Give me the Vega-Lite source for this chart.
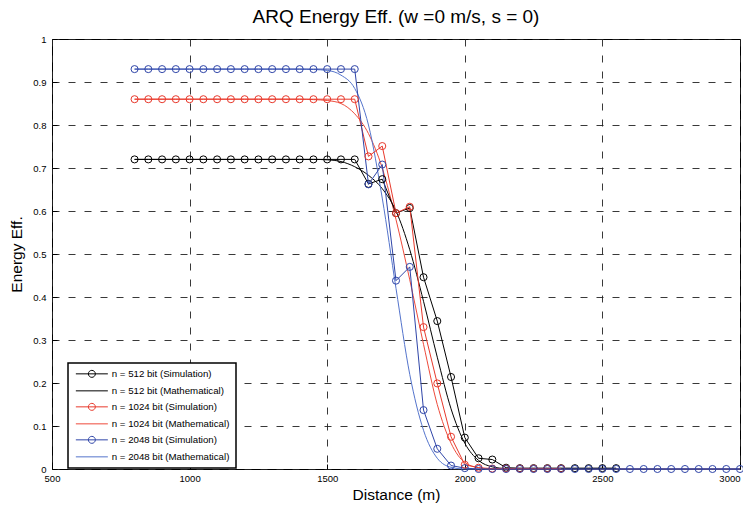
{
  "$schema": "https://vega.github.io/schema/vega-lite/v6.json",
  "width": 688,
  "height": 430,
  "autosize": {"type": "none"},
  "padding": {"left": 52, "top": 39, "right": 3, "bottom": 38},
  "background": "white",
  "title": {"text": "ARQ Energy Eff. (w =0 m/s, s = 0)", "fontSize": 19, "fontWeight": "normal", "font": "Liberation Sans", "color": "black", "offset": 7},
  "config": {
    "view": {"stroke": "black", "strokeWidth": 1},
    "axis": {"labelFont": "Liberation Sans", "labelFontSize": 9.5, "labelColor": "black", "titleFont": "Liberation Sans", "titleFontSize": 15.5, "titleFontWeight": "normal", "titleColor": "black", "gridColor": "#222", "gridDash": [7, 9], "gridWidth": 0.9, "gridOpacity": 1, "domain": false, "ticks": true, "tickSize": -5, "tickColor": "black", "tickWidth": 1}
  },
  "data": {"values": [
    {"s":"n = 512 bit (Simulation)","d":800,"e":0.72},{"s":"n = 512 bit (Simulation)","d":850,"e":0.72},{"s":"n = 512 bit (Simulation)","d":900,"e":0.72},{"s":"n = 512 bit (Simulation)","d":950,"e":0.72},{"s":"n = 512 bit (Simulation)","d":1000,"e":0.72},{"s":"n = 512 bit (Simulation)","d":1050,"e":0.72},{"s":"n = 512 bit (Simulation)","d":1100,"e":0.72},{"s":"n = 512 bit (Simulation)","d":1150,"e":0.72},{"s":"n = 512 bit (Simulation)","d":1200,"e":0.72},{"s":"n = 512 bit (Simulation)","d":1250,"e":0.72},{"s":"n = 512 bit (Simulation)","d":1300,"e":0.72},{"s":"n = 512 bit (Simulation)","d":1350,"e":0.72},{"s":"n = 512 bit (Simulation)","d":1400,"e":0.72},{"s":"n = 512 bit (Simulation)","d":1450,"e":0.72},{"s":"n = 512 bit (Simulation)","d":1500,"e":0.72},{"s":"n = 512 bit (Simulation)","d":1550,"e":0.72},{"s":"n = 512 bit (Simulation)","d":1600,"e":0.72},{"s":"n = 512 bit (Simulation)","d":1650,"e":0.663},{"s":"n = 512 bit (Simulation)","d":1700,"e":0.674},{"s":"n = 512 bit (Simulation)","d":1750,"e":0.595},{"s":"n = 512 bit (Simulation)","d":1800,"e":0.607},{"s":"n = 512 bit (Simulation)","d":1850,"e":0.446},{"s":"n = 512 bit (Simulation)","d":1900,"e":0.344},{"s":"n = 512 bit (Simulation)","d":1950,"e":0.214},{"s":"n = 512 bit (Simulation)","d":2000,"e":0.073},{"s":"n = 512 bit (Simulation)","d":2050,"e":0.025},{"s":"n = 512 bit (Simulation)","d":2100,"e":0.022},{"s":"n = 512 bit (Simulation)","d":2150,"e":0.003},{"s":"n = 512 bit (Simulation)","d":2200,"e":0.002},{"s":"n = 512 bit (Simulation)","d":2250,"e":0.002},{"s":"n = 512 bit (Simulation)","d":2300,"e":0.002},{"s":"n = 512 bit (Simulation)","d":2350,"e":0.002},{"s":"n = 512 bit (Simulation)","d":2400,"e":0.002},{"s":"n = 512 bit (Simulation)","d":2450,"e":0.002},{"s":"n = 512 bit (Simulation)","d":2500,"e":0.002},{"s":"n = 512 bit (Simulation)","d":2550,"e":0.002},
    {"s":"n = 512 bit (Mathematical)","d":800,"e":0.72},{"s":"n = 512 bit (Mathematical)","d":850,"e":0.72},{"s":"n = 512 bit (Mathematical)","d":900,"e":0.72},{"s":"n = 512 bit (Mathematical)","d":950,"e":0.72},{"s":"n = 512 bit (Mathematical)","d":1000,"e":0.72},{"s":"n = 512 bit (Mathematical)","d":1050,"e":0.72},{"s":"n = 512 bit (Mathematical)","d":1100,"e":0.72},{"s":"n = 512 bit (Mathematical)","d":1150,"e":0.72},{"s":"n = 512 bit (Mathematical)","d":1200,"e":0.72},{"s":"n = 512 bit (Mathematical)","d":1250,"e":0.72},{"s":"n = 512 bit (Mathematical)","d":1300,"e":0.72},{"s":"n = 512 bit (Mathematical)","d":1350,"e":0.72},{"s":"n = 512 bit (Mathematical)","d":1400,"e":0.72},{"s":"n = 512 bit (Mathematical)","d":1450,"e":0.72},{"s":"n = 512 bit (Mathematical)","d":1500,"e":0.719},{"s":"n = 512 bit (Mathematical)","d":1550,"e":0.715},{"s":"n = 512 bit (Mathematical)","d":1600,"e":0.703},{"s":"n = 512 bit (Mathematical)","d":1650,"e":0.683},{"s":"n = 512 bit (Mathematical)","d":1700,"e":0.652},{"s":"n = 512 bit (Mathematical)","d":1750,"e":0.6},{"s":"n = 512 bit (Mathematical)","d":1800,"e":0.51},{"s":"n = 512 bit (Mathematical)","d":1850,"e":0.39},{"s":"n = 512 bit (Mathematical)","d":1900,"e":0.26},{"s":"n = 512 bit (Mathematical)","d":1950,"e":0.14},{"s":"n = 512 bit (Mathematical)","d":2000,"e":0.06},{"s":"n = 512 bit (Mathematical)","d":2050,"e":0.02},{"s":"n = 512 bit (Mathematical)","d":2100,"e":0.005},{"s":"n = 512 bit (Mathematical)","d":2150,"e":0.001},{"s":"n = 512 bit (Mathematical)","d":2200,"e":0},{"s":"n = 512 bit (Mathematical)","d":2250,"e":0},{"s":"n = 512 bit (Mathematical)","d":2300,"e":0},{"s":"n = 512 bit (Mathematical)","d":2350,"e":0},{"s":"n = 512 bit (Mathematical)","d":2400,"e":0},{"s":"n = 512 bit (Mathematical)","d":2450,"e":0},{"s":"n = 512 bit (Mathematical)","d":2500,"e":0},{"s":"n = 512 bit (Mathematical)","d":2550,"e":0},{"s":"n = 512 bit (Mathematical)","d":2600,"e":0},{"s":"n = 512 bit (Mathematical)","d":2650,"e":0},{"s":"n = 512 bit (Mathematical)","d":2700,"e":0},{"s":"n = 512 bit (Mathematical)","d":2750,"e":0},{"s":"n = 512 bit (Mathematical)","d":2800,"e":0},{"s":"n = 512 bit (Mathematical)","d":2850,"e":0},{"s":"n = 512 bit (Mathematical)","d":2900,"e":0},{"s":"n = 512 bit (Mathematical)","d":2950,"e":0},{"s":"n = 512 bit (Mathematical)","d":3000,"e":0},
    {"s":"n = 1024 bit (Simulation)","d":800,"e":0.86},{"s":"n = 1024 bit (Simulation)","d":850,"e":0.86},{"s":"n = 1024 bit (Simulation)","d":900,"e":0.86},{"s":"n = 1024 bit (Simulation)","d":950,"e":0.86},{"s":"n = 1024 bit (Simulation)","d":1000,"e":0.86},{"s":"n = 1024 bit (Simulation)","d":1050,"e":0.86},{"s":"n = 1024 bit (Simulation)","d":1100,"e":0.86},{"s":"n = 1024 bit (Simulation)","d":1150,"e":0.86},{"s":"n = 1024 bit (Simulation)","d":1200,"e":0.86},{"s":"n = 1024 bit (Simulation)","d":1250,"e":0.86},{"s":"n = 1024 bit (Simulation)","d":1300,"e":0.86},{"s":"n = 1024 bit (Simulation)","d":1350,"e":0.86},{"s":"n = 1024 bit (Simulation)","d":1400,"e":0.86},{"s":"n = 1024 bit (Simulation)","d":1450,"e":0.86},{"s":"n = 1024 bit (Simulation)","d":1500,"e":0.86},{"s":"n = 1024 bit (Simulation)","d":1550,"e":0.86},{"s":"n = 1024 bit (Simulation)","d":1600,"e":0.86},{"s":"n = 1024 bit (Simulation)","d":1650,"e":0.727},{"s":"n = 1024 bit (Simulation)","d":1700,"e":0.751},{"s":"n = 1024 bit (Simulation)","d":1750,"e":0.595},{"s":"n = 1024 bit (Simulation)","d":1800,"e":0.61},{"s":"n = 1024 bit (Simulation)","d":1850,"e":0.33},{"s":"n = 1024 bit (Simulation)","d":1900,"e":0.199},{"s":"n = 1024 bit (Simulation)","d":1950,"e":0.075},{"s":"n = 1024 bit (Simulation)","d":2000,"e":0.01},{"s":"n = 1024 bit (Simulation)","d":2050,"e":0.003},{"s":"n = 1024 bit (Simulation)","d":2100,"e":0.001},{"s":"n = 1024 bit (Simulation)","d":2150,"e":0.001},{"s":"n = 1024 bit (Simulation)","d":2200,"e":0.001},{"s":"n = 1024 bit (Simulation)","d":2250,"e":0.001},{"s":"n = 1024 bit (Simulation)","d":2300,"e":0.001},{"s":"n = 1024 bit (Simulation)","d":2350,"e":0.001},
    {"s":"n = 1024 bit (Mathematical)","d":800,"e":0.86},{"s":"n = 1024 bit (Mathematical)","d":850,"e":0.86},{"s":"n = 1024 bit (Mathematical)","d":900,"e":0.86},{"s":"n = 1024 bit (Mathematical)","d":950,"e":0.86},{"s":"n = 1024 bit (Mathematical)","d":1000,"e":0.86},{"s":"n = 1024 bit (Mathematical)","d":1050,"e":0.86},{"s":"n = 1024 bit (Mathematical)","d":1100,"e":0.86},{"s":"n = 1024 bit (Mathematical)","d":1150,"e":0.86},{"s":"n = 1024 bit (Mathematical)","d":1200,"e":0.86},{"s":"n = 1024 bit (Mathematical)","d":1250,"e":0.86},{"s":"n = 1024 bit (Mathematical)","d":1300,"e":0.86},{"s":"n = 1024 bit (Mathematical)","d":1350,"e":0.86},{"s":"n = 1024 bit (Mathematical)","d":1400,"e":0.86},{"s":"n = 1024 bit (Mathematical)","d":1450,"e":0.859},{"s":"n = 1024 bit (Mathematical)","d":1500,"e":0.857},{"s":"n = 1024 bit (Mathematical)","d":1550,"e":0.85},{"s":"n = 1024 bit (Mathematical)","d":1600,"e":0.826},{"s":"n = 1024 bit (Mathematical)","d":1650,"e":0.78},{"s":"n = 1024 bit (Mathematical)","d":1700,"e":0.7},{"s":"n = 1024 bit (Mathematical)","d":1750,"e":0.58},{"s":"n = 1024 bit (Mathematical)","d":1800,"e":0.44},{"s":"n = 1024 bit (Mathematical)","d":1850,"e":0.29},{"s":"n = 1024 bit (Mathematical)","d":1900,"e":0.15},{"s":"n = 1024 bit (Mathematical)","d":1950,"e":0.06},{"s":"n = 1024 bit (Mathematical)","d":2000,"e":0.015},{"s":"n = 1024 bit (Mathematical)","d":2050,"e":0.003},{"s":"n = 1024 bit (Mathematical)","d":2100,"e":0},{"s":"n = 1024 bit (Mathematical)","d":2150,"e":0},{"s":"n = 1024 bit (Mathematical)","d":2200,"e":0},{"s":"n = 1024 bit (Mathematical)","d":2250,"e":0},{"s":"n = 1024 bit (Mathematical)","d":2300,"e":0},{"s":"n = 1024 bit (Mathematical)","d":2350,"e":0},{"s":"n = 1024 bit (Mathematical)","d":2400,"e":0},{"s":"n = 1024 bit (Mathematical)","d":2450,"e":0},{"s":"n = 1024 bit (Mathematical)","d":2500,"e":0},{"s":"n = 1024 bit (Mathematical)","d":2550,"e":0},{"s":"n = 1024 bit (Mathematical)","d":2600,"e":0},{"s":"n = 1024 bit (Mathematical)","d":2650,"e":0},{"s":"n = 1024 bit (Mathematical)","d":2700,"e":0},{"s":"n = 1024 bit (Mathematical)","d":2750,"e":0},{"s":"n = 1024 bit (Mathematical)","d":2800,"e":0},{"s":"n = 1024 bit (Mathematical)","d":2850,"e":0},{"s":"n = 1024 bit (Mathematical)","d":2900,"e":0},{"s":"n = 1024 bit (Mathematical)","d":2950,"e":0},{"s":"n = 1024 bit (Mathematical)","d":3000,"e":0},
    {"s":"n = 2048 bit (Simulation)","d":800,"e":0.93},{"s":"n = 2048 bit (Simulation)","d":850,"e":0.93},{"s":"n = 2048 bit (Simulation)","d":900,"e":0.93},{"s":"n = 2048 bit (Simulation)","d":950,"e":0.93},{"s":"n = 2048 bit (Simulation)","d":1000,"e":0.93},{"s":"n = 2048 bit (Simulation)","d":1050,"e":0.93},{"s":"n = 2048 bit (Simulation)","d":1100,"e":0.93},{"s":"n = 2048 bit (Simulation)","d":1150,"e":0.93},{"s":"n = 2048 bit (Simulation)","d":1200,"e":0.93},{"s":"n = 2048 bit (Simulation)","d":1250,"e":0.93},{"s":"n = 2048 bit (Simulation)","d":1300,"e":0.93},{"s":"n = 2048 bit (Simulation)","d":1350,"e":0.93},{"s":"n = 2048 bit (Simulation)","d":1400,"e":0.93},{"s":"n = 2048 bit (Simulation)","d":1450,"e":0.93},{"s":"n = 2048 bit (Simulation)","d":1500,"e":0.93},{"s":"n = 2048 bit (Simulation)","d":1550,"e":0.93},{"s":"n = 2048 bit (Simulation)","d":1600,"e":0.93},{"s":"n = 2048 bit (Simulation)","d":1650,"e":0.662},{"s":"n = 2048 bit (Simulation)","d":1700,"e":0.708},{"s":"n = 2048 bit (Simulation)","d":1750,"e":0.438},{"s":"n = 2048 bit (Simulation)","d":1800,"e":0.47},{"s":"n = 2048 bit (Simulation)","d":1850,"e":0.137},{"s":"n = 2048 bit (Simulation)","d":1900,"e":0.047},{"s":"n = 2048 bit (Simulation)","d":1950,"e":0.008},{"s":"n = 2048 bit (Simulation)","d":2000,"e":0.002},{"s":"n = 2048 bit (Simulation)","d":2050,"e":0},{"s":"n = 2048 bit (Simulation)","d":2100,"e":0},{"s":"n = 2048 bit (Simulation)","d":2150,"e":0},{"s":"n = 2048 bit (Simulation)","d":2200,"e":0},{"s":"n = 2048 bit (Simulation)","d":2250,"e":0},{"s":"n = 2048 bit (Simulation)","d":2300,"e":0},{"s":"n = 2048 bit (Simulation)","d":2350,"e":0},{"s":"n = 2048 bit (Simulation)","d":2400,"e":0},{"s":"n = 2048 bit (Simulation)","d":2450,"e":0},{"s":"n = 2048 bit (Simulation)","d":2500,"e":0},{"s":"n = 2048 bit (Simulation)","d":2550,"e":0},{"s":"n = 2048 bit (Simulation)","d":2600,"e":0},{"s":"n = 2048 bit (Simulation)","d":2650,"e":0},{"s":"n = 2048 bit (Simulation)","d":2700,"e":0},{"s":"n = 2048 bit (Simulation)","d":2750,"e":0},{"s":"n = 2048 bit (Simulation)","d":2800,"e":0},{"s":"n = 2048 bit (Simulation)","d":2850,"e":0},{"s":"n = 2048 bit (Simulation)","d":2900,"e":0},{"s":"n = 2048 bit (Simulation)","d":2950,"e":0},{"s":"n = 2048 bit (Simulation)","d":3000,"e":0},
    {"s":"n = 2048 bit (Mathematical)","d":800,"e":0.93},{"s":"n = 2048 bit (Mathematical)","d":850,"e":0.93},{"s":"n = 2048 bit (Mathematical)","d":900,"e":0.93},{"s":"n = 2048 bit (Mathematical)","d":950,"e":0.93},{"s":"n = 2048 bit (Mathematical)","d":1000,"e":0.93},{"s":"n = 2048 bit (Mathematical)","d":1050,"e":0.93},{"s":"n = 2048 bit (Mathematical)","d":1100,"e":0.93},{"s":"n = 2048 bit (Mathematical)","d":1150,"e":0.93},{"s":"n = 2048 bit (Mathematical)","d":1200,"e":0.93},{"s":"n = 2048 bit (Mathematical)","d":1250,"e":0.93},{"s":"n = 2048 bit (Mathematical)","d":1300,"e":0.93},{"s":"n = 2048 bit (Mathematical)","d":1350,"e":0.93},{"s":"n = 2048 bit (Mathematical)","d":1400,"e":0.93},{"s":"n = 2048 bit (Mathematical)","d":1450,"e":0.929},{"s":"n = 2048 bit (Mathematical)","d":1500,"e":0.927},{"s":"n = 2048 bit (Mathematical)","d":1550,"e":0.916},{"s":"n = 2048 bit (Mathematical)","d":1600,"e":0.885},{"s":"n = 2048 bit (Mathematical)","d":1650,"e":0.8},{"s":"n = 2048 bit (Mathematical)","d":1700,"e":0.63},{"s":"n = 2048 bit (Mathematical)","d":1750,"e":0.42},{"s":"n = 2048 bit (Mathematical)","d":1800,"e":0.22},{"s":"n = 2048 bit (Mathematical)","d":1850,"e":0.09},{"s":"n = 2048 bit (Mathematical)","d":1900,"e":0.025},{"s":"n = 2048 bit (Mathematical)","d":1950,"e":0.004},{"s":"n = 2048 bit (Mathematical)","d":2000,"e":0},{"s":"n = 2048 bit (Mathematical)","d":2050,"e":0},{"s":"n = 2048 bit (Mathematical)","d":2100,"e":0},{"s":"n = 2048 bit (Mathematical)","d":2150,"e":0},{"s":"n = 2048 bit (Mathematical)","d":2200,"e":0},{"s":"n = 2048 bit (Mathematical)","d":2250,"e":0},{"s":"n = 2048 bit (Mathematical)","d":2300,"e":0},{"s":"n = 2048 bit (Mathematical)","d":2350,"e":0},{"s":"n = 2048 bit (Mathematical)","d":2400,"e":0},{"s":"n = 2048 bit (Mathematical)","d":2450,"e":0},{"s":"n = 2048 bit (Mathematical)","d":2500,"e":0},{"s":"n = 2048 bit (Mathematical)","d":2550,"e":0},{"s":"n = 2048 bit (Mathematical)","d":2600,"e":0},{"s":"n = 2048 bit (Mathematical)","d":2650,"e":0},{"s":"n = 2048 bit (Mathematical)","d":2700,"e":0},{"s":"n = 2048 bit (Mathematical)","d":2750,"e":0},{"s":"n = 2048 bit (Mathematical)","d":2800,"e":0},{"s":"n = 2048 bit (Mathematical)","d":2850,"e":0},{"s":"n = 2048 bit (Mathematical)","d":2900,"e":0},{"s":"n = 2048 bit (Mathematical)","d":2950,"e":0},{"s":"n = 2048 bit (Mathematical)","d":3000,"e":0}
  ]},
  "encoding": {
    "x": {"field": "d", "type": "quantitative", "title": "Distance (m)",
      "scale": {"domain": [500, 3000], "nice": false},
      "axis": {"values": [500, 1000, 1500, 2000, 2500, 3000], "format": "d", "labelPadding": 9, "titlePadding": 5,
        "labelAlign": {"condition": {"test": "datum.value == 3000", "value": "right"}, "value": "center"}}},
    "y": {"field": "e", "type": "quantitative", "title": "Energy Eff.",
      "scale": {"domain": [0, 1], "nice": false},
      "axis": {"values": [0, 0.1, 0.2, 0.3, 0.4, 0.5, 0.6, 0.7, 0.8, 0.9, 1], "format": ".1~f", "labelPadding": 11, "titlePadding": 8}},
    "color": {"field": "s", "type": "nominal", "title": null,
      "scale": {"domain": ["n = 512 bit (Simulation)", "n = 512 bit (Mathematical)", "n = 1024 bit (Simulation)", "n = 1024 bit (Mathematical)", "n = 2048 bit (Simulation)", "n = 2048 bit (Mathematical)"],
        "range": ["#000000", "#000000", "#e8392c", "#ee4a3a", "#2f45a8", "#5474cc"]},
      "legend": {"orient": "none", "legendX": 16, "legendY": 324, "padding": 6, "fillColor": "white", "strokeColor": "black",
        "labelFont": "Liberation Sans", "labelFontSize": 9.7, "labelColor": "black", "labelOffset": 28, "symbolSize": 64, "rowPadding": 5, "symbolStrokeWidth": 1,
        "encode": {
          "legend": {"update": {"strokeWidth": {"value": 1.5}}},
          "symbols": {"update": {
            "shape": {"signal": "indexof(datum.value, 'Simulation') >= 0 ? 'M-0.75,0H7.25M2.375,0A0.875,0.875,0,1,1,4.125,0A0.875,0.875,0,1,1,2.375,0' : 'M-0.75,0H7.25'"},
            "fill": {"value": "transparent"},
            "stroke": {"scale": "color", "field": "value"},
            "strokeWidth": {"value": 1},
            "opacity": {"value": 1}
          }}
        }}}
  },
  "layer": [
    {"transform": [{"filter": "indexof(datum.s, 'Mathematical') >= 0"}],
     "mark": {"type": "line", "strokeWidth": 1, "interpolate": "monotone"}},
    {"transform": [{"filter": "indexof(datum.s, 'Simulation') >= 0"}],
     "mark": {"type": "line", "strokeWidth": 1}},
    {"transform": [{"filter": "indexof(datum.s, 'Simulation') >= 0"}],
     "mark": {"type": "point", "shape": "circle", "filled": false, "size": 50, "strokeWidth": 1, "opacity": 1}}
  ]
}
